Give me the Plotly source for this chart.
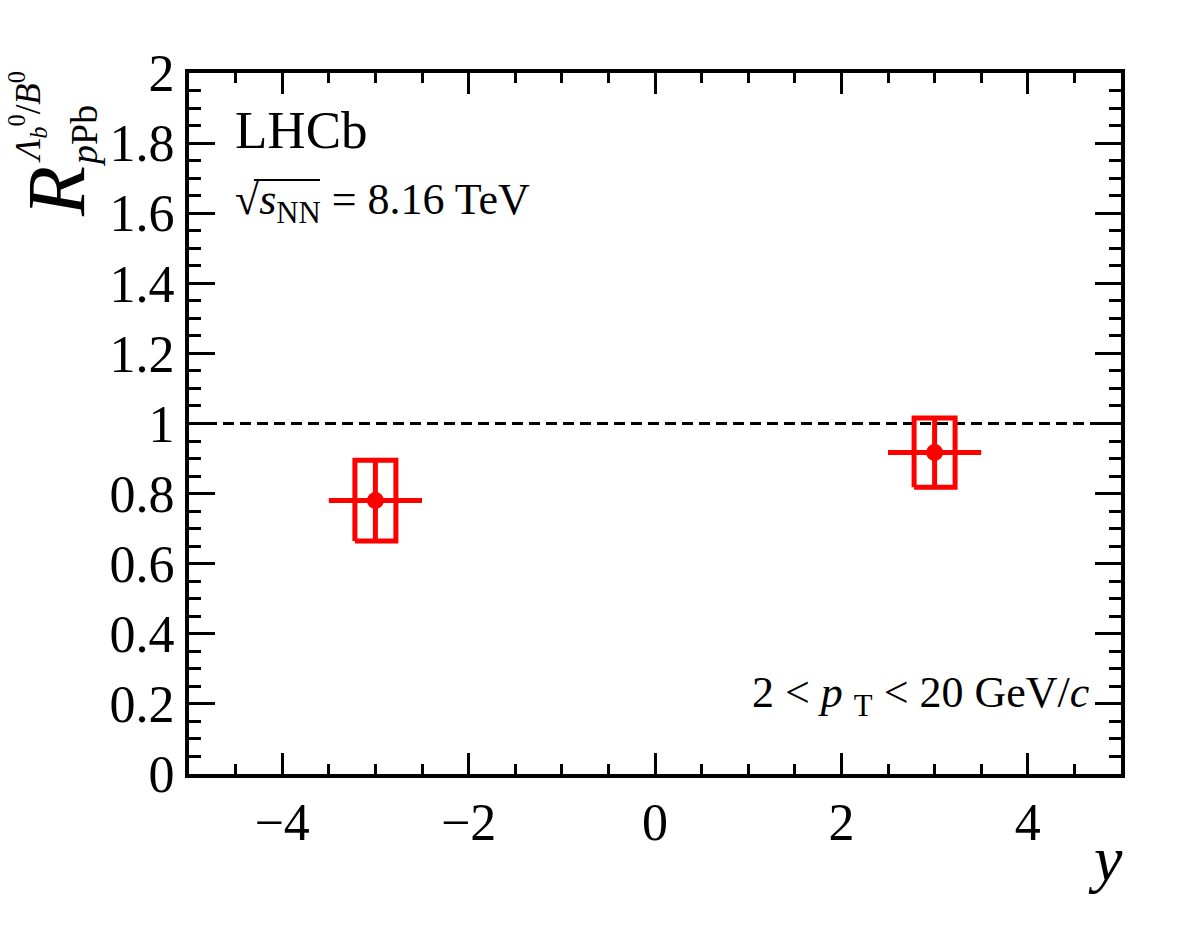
import plotly.graph_objects as go

# ---- data ----
rapidity = [-3.0, 3.0]
ratio = [0.78, 0.917]
stat_err = [0.115, 0.099]
syst_err = [0.115, 0.099]
x_half_width = [0.5, 0.5]
box_half_width = [0.22, 0.22]

RED = "#ff0000"
FONT = "Liberation Serif"

W, H = 1182, 936
L, R_, T, B = 189, 1121, 73, 774


def px(xpix):
    return (xpix - L) / (R_ - L)


def py(ypix):
    return (B - ypix) / (B - T)


fig = go.Figure()

# reference line at 1
fig.add_trace(go.Scatter(x=[-5, 5], y=[1, 1], mode="lines",
                         line=dict(color="black", width=3, dash="11px,6px"),
                         hoverinfo="skip", showlegend=False))

# systematic boxes
for xc, yc, se, bw in zip(rapidity, ratio, syst_err, box_half_width):
    fig.add_trace(go.Scatter(
        x=[xc - bw, xc + bw, xc + bw, xc - bw, xc - bw],
        y=[yc - se, yc - se, yc + se, yc + se, yc - se],
        mode="lines", line=dict(color=RED, width=5),
        hoverinfo="skip", showlegend=False))

# points with stat errors
fig.add_trace(go.Scatter(
    x=rapidity, y=ratio, mode="markers",
    marker=dict(color=RED, size=17, symbol="circle"),
    error_y=dict(type="data", array=stat_err, color=RED, thickness=5, width=0),
    error_x=dict(type="data", array=x_half_width, color=RED, thickness=5, width=0),
    showlegend=False))

axis_common = dict(
    showline=True, linecolor="black", linewidth=4, mirror="ticks",
    ticks="inside", tickcolor="black", tickwidth=3,
    showgrid=False, zeroline=False,
    tickfont=dict(family=FONT, size=52, color="black"),
)

fig.update_xaxes(range=[-5, 5], tickmode="linear", tick0=-4, dtick=2, ticklen=21,
                 minor=dict(ticks="inside", dtick=0.5, tick0=-5, ticklen=10,
                            tickcolor="black", tickwidth=3),
                 **axis_common)
fig.update_yaxes(range=[0, 2], tickmode="linear", tick0=0, dtick=0.2, ticklen=26,
                 minor=dict(ticks="inside", dtick=0.05, tick0=0, ticklen=12,
                            tickcolor="black", tickwidth=3),
                 **axis_common)

ann = []
# x title
ann.append(dict(x=px(1105), y=py(858), xref="paper", yref="paper",
                text="<i>y</i>", showarrow=False, xanchor="center", yanchor="middle",
                font=dict(family=FONT, size=64, color="black")))
# y title pieces
ann.append(dict(x=px(57), y=py(192), xref="paper", yref="paper",
                text="<i>R</i>", textangle=-90, showarrow=False,
                xanchor="center", yanchor="middle",
                font=dict(family=FONT, size=82, color="black")))
ann.append(dict(x=px(84), y=py(136), xref="paper", yref="paper",
                text="<i>p</i>Pb", textangle=-90, showarrow=False,
                xanchor="center", yanchor="middle",
                font=dict(family=FONT, size=38, color="black")))
ann.append(dict(x=px(27), y=py(117), xref="paper", yref="paper",
                text="<i>Λ</i><sub><i>b</i></sub><sup>0</sup>/<i>B</i><sup>0</sup>",
                textangle=-90, showarrow=False,
                xanchor="center", yanchor="middle",
                font=dict(family=FONT, size=35, color="black")))
# LHCb
ann.append(dict(x=px(233), y=py(130), xref="paper", yref="paper",
                text="LHCb", showarrow=False, xanchor="left", yanchor="middle",
                font=dict(family=FONT, size=53, color="black")))
# sqrt s
ann.append(dict(x=px(233), y=py(203), xref="paper", yref="paper",
                text="√<i>s</i><sub>NN</sub> = 8.16 TeV", showarrow=False,
                xanchor="left", yanchor="middle",
                font=dict(family=FONT, size=44, color="black")))
# pT range
ann.append(dict(x=px(1092), y=py(695), xref="paper", yref="paper",
                text="2 < <i>p</i> <sub>T</sub> < 20 GeV/<i>c</i>", showarrow=False,
                xanchor="right", yanchor="middle",
                font=dict(family=FONT, size=44, color="black")))

shapes = [dict(type="line", xref="paper", yref="paper",
               x0=px(254), x1=px(320), y0=py(180), y1=py(180),
               line=dict(color="black", width=2))]

fig.update_layout(
    width=W, height=H,
    margin=dict(l=L, r=W - R_, t=T, b=H - B),
    paper_bgcolor="white", plot_bgcolor="white",
    annotations=ann, shapes=shapes,
    font=dict(family=FONT, color="black"),
)

fig.write_html("out.html")
